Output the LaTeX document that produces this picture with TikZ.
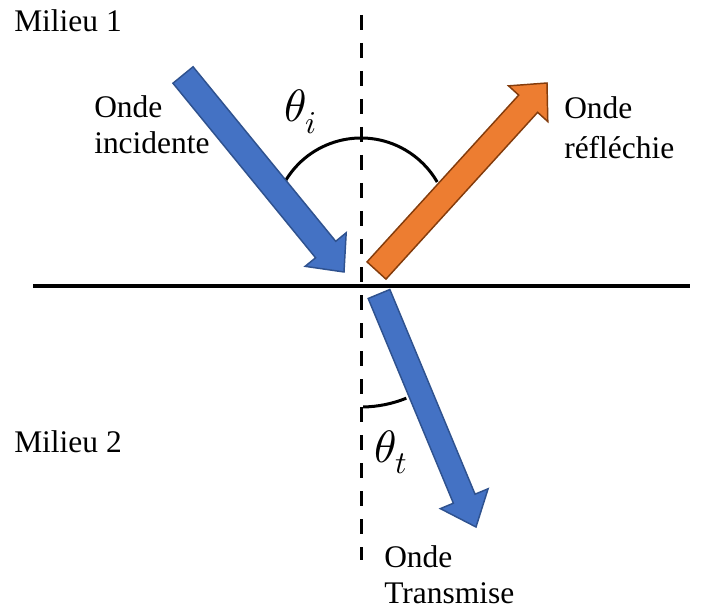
\documentclass[tikz,border=0pt]{standalone}
\usepackage{fontspec}
\usepackage{unicode-math}
\setmainfont{Liberation Serif}
\newfontfamily\timeslike{Liberation Serif}
\setmathfont{Latin Modern Math}
\usetikzlibrary{calc}
\definecolor{blueF}{HTML}{4472C4}
\definecolor{blueD}{HTML}{2F528F}
\definecolor{orangeF}{HTML}{ED7D31}
\definecolor{orangeD}{HTML}{843C0C}
% #1 style, #2 tail, #3 tip, #4 shaft half width, #5 head half width, #6 head length
\newcommand{\blockarrow}[6]{%
  \coordinate (hb) at ($(#3)!#6!(#2)$);
  \draw[#1] ($(#2)!#4!90:(#3)$) -- ($(hb)!#4!90:(#3)$) -- ($(hb)!#5!90:(#3)$) -- (#3)
    -- ($(hb)!#5!-90:(#3)$) -- ($(hb)!#4!-90:(#3)$) -- ($(#2)!#4!-90:(#3)$) -- cycle;}
\tikzset{
  lbl/.style={font=\timeslike\fontsize{23.6}{27}\selectfont, inner sep=0pt, align=left},
  mathlbl/.style={font=\fontsize{34}{37}\selectfont, inner sep=0pt},
  axisdash/.style={line width=2.25pt, dash pattern=on 11.25pt off 9.75pt},
  interface/.style={line width=3pt},
  anglearc/.style={line width=2.25pt},
  bluearrow/.style={fill=blueF, draw=blueD, line width=1.1pt, line join=miter},
  orangearrow/.style={fill=orangeF, draw=orangeD, line width=1.1pt, line join=miter}
}
\begin{document}
\begin{tikzpicture}[x=0.75pt, y=-0.75pt]
\useasboundingbox (0,0) rectangle (709,609);
% axes
\coordinate (vt) at (361,15);
\coordinate (vb) at (361,560);
\coordinate (hl) at (33,286);
\coordinate (hr) at (690,286);
\coordinate (O) at (361,286);
\coordinate (ci) at (361,226);
\draw[axisdash] (vt) -- (vb);
\draw[interface] (hl) -- (hr);
% angle arcs
\draw[anglearc] ($(ci)+(150:66pt)$) arc[start angle=150, end angle=30, radius=66pt];
\draw[anglearc] ($(O)+(-89:90.75pt)$) arc[start angle=-89, end angle=-68, radius=90.75pt];
% arrows
\coordinate (itail) at (183,75);
\coordinate (itip) at (344,272);
\coordinate (rtail) at (376.5,270.5);
\coordinate (rtip) at (547,83);
\coordinate (ttail) at (379,294);
\coordinate (ttip) at (476,527);
\blockarrow{bluearrow}{itail}{itip}{9.75pt}{19.9pt}{21.75pt}
\blockarrow{orangearrow}{rtail}{rtip}{9.6pt}{19.9pt}{21pt}
\blockarrow{bluearrow}{ttail}{ttip}{8.8pt}{19.4pt}{23pt}
% labels
\node[lbl, anchor=base west] (m1) at (14,32) {Milieu 1};
\node[lbl, anchor=base west] (m2) at (14,452) {Milieu 2};
\node[lbl, anchor=north west] (inc) at (94,95.5) {Onde\\incidente};
\node[lbl, anchor=north west] (ref) at (564,96.5) {Onde\\[3pt]réfléchie};
\node[lbl, anchor=north west] (tra) at (384,545.5) {Onde\\Transmise};
\node[mathlbl, anchor=base west] (ti) at (284,122) {$\theta_i$};
\node[mathlbl, anchor=base west] (tt) at (374,462) {$\theta_t$};
\end{tikzpicture}
\end{document}
